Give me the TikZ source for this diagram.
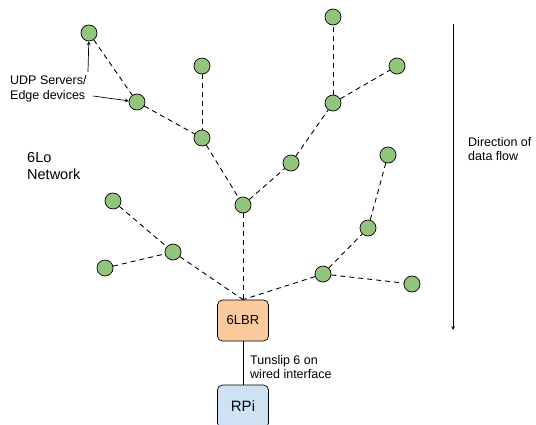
\documentclass[tikz,border=0pt]{standalone}
\usepackage{fontspec}
\setmainfont{Liberation Sans}
\usetikzlibrary{arrows}
\definecolor{motegreen}{RGB}{147, 196, 125}
\definecolor{lbrorange}{RGB}{249, 203, 156}
\definecolor{rpiblue}{RGB}{207, 226, 243}
\tikzstyle{mote} = [circle, draw=black, fill=motegreen,
                    minimum size=16pt, inner sep=0pt, line width=0.7pt]
\tikzstyle{router} = [rectangle, rounded corners=5pt,
                      minimum width=51pt, minimum height=41pt,
                      text centered, draw=black, fill=lbrorange,
                      line width=0.7pt]
\tikzstyle{link} = [line width=0.9pt, dash pattern=on 5pt off 4pt]
\tikzstyle{note} = [align=left, anchor=west, inner sep=0pt,
                    font=\fontsize{12.5}{14.5}\selectfont]
\tikzstyle{arrow} = [line width=0.7pt,->,>=stealth]

\begin{document}
\begin{tikzpicture}[x=1pt, y=-1pt]
        \useasboundingbox (0,0) rectangle (536,424);

        % border router and host
        \node (lbr) [router, font=\fontsize{13}{15}\selectfont] at (243,320.5) {6LBR};
        \node (rpi) [router, fill=rpiblue, minimum height=43pt,
                     font=\fontsize{15}{17}\selectfont] at (243,406.5) {RPi};

        % 6Lo motes
        \node (a1) [mote] at (89,33) {};
        \node (a2) [mote] at (137,102) {};
        \node (a3) [mote] at (202,66) {};
        \node (a4) [mote] at (202,138) {};
        \node (c)  [mote] at (243,205) {};
        \node (b1) [mote] at (333,17) {};
        \node (b2) [mote] at (397,66) {};
        \node (b3) [mote] at (333,103) {};
        \node (b4) [mote] at (291,163) {};
        \node (d1) [mote] at (113,201) {};
        \node (d2) [mote] at (173,252) {};
        \node (d3) [mote] at (105,268) {};
        \node (e1) [mote] at (388,155) {};
        \node (e2) [mote] at (368,228) {};
        \node (e3) [mote] at (323,274) {};
        \node (e4) [mote] at (412,284) {};

        \draw [link] (a1) -- (a2);
        \draw [link] (a2) -- (a4);
        \draw [link] (a3) -- (a4);
        \draw [link] (a4) -- (c);
        \draw [link] (c) -- (b4);
        \draw [link] (b4) -- (b3);
        \draw [link] (b3) -- (b1);
        \draw [link] (b3) -- (b2);
        \draw [link] (c) -- (lbr.north);
        \draw [link] (d1) -- (d2);
        \draw [link] (d3) -- (d2);
        \draw [link] (d2) -- (lbr.north);
        \draw [link] (e3) -- (lbr.north);
        \draw [link] (e3) -- (e2);
        \draw [link] (e2) -- (e1);
        \draw [link] (e3) -- (e4);

        \draw [line width=0.8pt] (lbr) -- (rpi);

        % texts
        \node (udp) [note] at (10,89) {UDP Servers/\\Edge devices};
        \coordinate (udptop) at (88,72);
        \coordinate (udpend) at (93,96);
        \draw [arrow] (udptop) -- (a1);
        \draw [arrow] (udpend) -- (a2);

        \node (net) [note, font=\fontsize{14.5}{17}\selectfont] at (27,166) {6Lo\\Network};
        \node (flow) [note] at (468,149) {Direction of\\data flow};
        \node (tun) [note] at (250,367) {Tunslip 6 on\\wired interface};

        \coordinate (flowtop) at (453,24);
        \coordinate (flowend) at (453,330);
        \draw [arrow] (flowtop) -- (flowend);

    \end{tikzpicture}
\end{document}
